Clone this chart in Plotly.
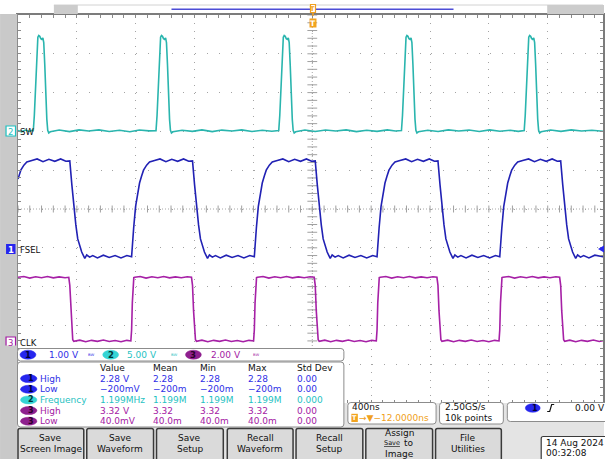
import plotly.graph_objects as go

# ---------------- data (time in ns, level in V) ----------------
SW = [  # channel 2
    (-2000, 0.05), (-1975, -0.1), (-1950, 0.12), (-1925, -0.05), (-1905, 0.08),
    (-1896, 0.05), (-1889, 2.0), (-1879, 6.5), (-1872, 10.5), (-1865, 12.1), (-1859, 12.3), (-1852, 12.2),
    (-1845, 11.9), (-1838, 11.8), (-1831, 12.0), (-1825, 11.4), (-1818, 8.5), (-1811, 4.5), (-1804, 1.5),
    (-1798, 0.1), (-1791, -0.25), (-1781, -0.1),
    (-1720, 0.12), (-1650, -0.08), (-1585, 0.15), (-1520, 0.0), (-1450, 0.14), (-1380, -0.06), (-1310, 0.1),
    (-1240, -0.1), (-1175, 0.13), (-1110, 0.02),
    (-1062, 0.05), (-1055, 2.0), (-1045, 6.5), (-1038, 10.5), (-1031, 12.1), (-1025, 12.3), (-1018, 12.2),
    (-1011, 11.9), (-1004, 11.8), (-997, 12.0), (-991, 11.4), (-984, 8.5), (-977, 4.5), (-970, 1.5),
    (-964, 0.1), (-957, -0.25), (-947, -0.1),
    (-885, 0.1), (-815, -0.05), (-750, 0.14), (-680, -0.08), (-615, 0.12), (-545, 0.0), (-480, 0.15),
    (-410, -0.07), (-340, 0.1), (-275, -0.04),
    (-228, 0.05), (-221, 2.0), (-211, 6.5), (-204, 10.5), (-197, 12.1), (-191, 12.3), (-184, 12.2),
    (-177, 11.9), (-170, 11.8), (-163, 12.0), (-157, 11.4), (-150, 8.5), (-143, 4.5), (-136, 1.5),
    (-130, 0.1), (-123, -0.25), (-113, -0.1),
    (-50, 0.12), (20, -0.06), (90, 0.13), (160, 0.0), (230, 0.15), (300, -0.08), (370, 0.1), (440, -0.05),
    (510, 0.14), (565, 0.0),
    (606, 0.05), (613, 2.0), (623, 6.5), (630, 10.5), (637, 12.1), (643, 12.3), (650, 12.2), (657, 11.9),
    (664, 11.8), (671, 12.0), (677, 11.4), (684, 8.5), (691, 4.5), (698, 1.5), (704, 0.1), (711, -0.25),
    (721, -0.1),
    (785, 0.1), (855, -0.07), (925, 0.14), (995, 0.0), (1065, 0.12), (1135, -0.06), (1205, 0.15),
    (1275, -0.03), (1345, 0.1), (1400, -0.05),
    (1440, 0.05), (1447, 2.0), (1457, 6.5), (1464, 10.5), (1471, 12.1), (1477, 12.3), (1484, 12.2),
    (1491, 11.9), (1498, 11.8), (1505, 12.0), (1511, 11.4), (1518, 8.5), (1525, 4.5), (1532, 1.5),
    (1538, 0.1), (1545, -0.25), (1555, -0.1),
    (1620, 0.12), (1690, -0.05), (1760, 0.14), (1830, 0.0), (1900, 0.1), (1976, -0.04),
]

FSEL = [  # channel 1
    (-2000, 1.80), (-1994, 1.88), (-1981, 2.03), (-1960, 2.16), (-1940, 2.24), (-1906, 2.28),
    (-1870, 2.32), (-1830, 2.25), (-1790, 2.31), (-1750, 2.26), (-1710, 2.32), (-1675, 2.26),
    (-1648, 2.27), (-1634, 1.65), (-1621, 1.13), (-1607, 0.62), (-1594, 0.26), (-1580, 0.05), (-1567, -0.08),
    (-1546, -0.245), (-1533, -0.155), (-1513, -0.21), (-1492, -0.17),
    (-1460, -0.23), (-1420, -0.16), (-1380, -0.22), (-1340, -0.17), (-1300, -0.23), (-1260, -0.17),
    (-1228, -0.2), (-1221, 0.23), (-1214, 0.54), (-1201, 1.09), (-1187, 1.44), (-1174, 1.7), (-1160, 1.88),
    (-1147, 2.03), (-1126, 2.16), (-1106, 2.24), (-1072, 2.28),
    (-1035, 2.32), (-995, 2.25), (-955, 2.31), (-915, 2.26), (-875, 2.32), (-840, 2.26),
    (-814, 2.27), (-800, 1.65), (-787, 1.13), (-773, 0.62), (-760, 0.26), (-746, 0.05), (-733, -0.08),
    (-712, -0.245), (-699, -0.155), (-679, -0.21), (-658, -0.17),
    (-625, -0.23), (-585, -0.16), (-545, -0.22), (-505, -0.17), (-465, -0.23), (-425, -0.17),
    (-394, -0.2), (-387, 0.23), (-380, 0.54), (-367, 1.09), (-353, 1.44), (-340, 1.7), (-326, 1.88),
    (-313, 2.03), (-292, 2.16), (-272, 2.24), (-238, 2.28),
    (-200, 2.32), (-160, 2.25), (-120, 2.31), (-80, 2.26), (-40, 2.32), (-5, 2.26),
    (20, 2.27), (34, 1.65), (47, 1.13), (61, 0.62), (74, 0.26), (88, 0.05), (101, -0.08), (122, -0.245),
    (135, -0.155), (155, -0.21), (176, -0.17),
    (210, -0.23), (250, -0.16), (290, -0.22), (330, -0.17), (370, -0.23), (410, -0.17),
    (440, -0.2), (447, 0.23), (454, 0.54), (467, 1.09), (481, 1.44), (494, 1.7), (508, 1.88), (521, 2.03),
    (542, 2.16), (562, 2.24), (596, 2.28),
    (635, 2.32), (675, 2.25), (715, 2.31), (755, 2.26), (795, 2.32), (830, 2.26),
    (854, 2.27), (868, 1.65), (881, 1.13), (895, 0.62), (908, 0.26), (922, 0.05), (935, -0.08),
    (956, -0.245), (969, -0.155), (989, -0.21), (1010, -0.17),
    (1045, -0.23), (1085, -0.16), (1125, -0.22), (1165, -0.17), (1205, -0.23), (1245, -0.17),
    (1274, -0.2), (1281, 0.23), (1288, 0.54), (1301, 1.09), (1315, 1.44), (1328, 1.7), (1342, 1.88),
    (1355, 2.03), (1376, 2.16), (1396, 2.24), (1430, 2.28),
    (1470, 2.32), (1510, 2.25), (1550, 2.31), (1590, 2.26), (1630, 2.32), (1665, 2.26),
    (1688, 2.27), (1702, 1.65), (1715, 1.13), (1729, 0.62), (1742, 0.26), (1756, 0.05), (1769, -0.08),
    (1790, -0.245), (1803, -0.155), (1823, -0.21), (1844, -0.17),
    (1880, -0.23), (1920, -0.16), (1976, -0.2),
]

CLK = [  # channel 3
    (-2000, 3.32), (-1960, 3.36), (-1920, 3.28), (-1880, 3.35), (-1840, 3.30), (-1800, 3.36), (-1760, 3.29),
    (-1720, 3.34), (-1680, 3.30),
    (-1655, 3.32), (-1648, 2.9), (-1641, 1.6), (-1635, 0.5), (-1628, 0.1), (-1621, 0.02),
    (-1580, 0.08), (-1540, 0.0), (-1500, 0.07), (-1460, 0.02), (-1420, 0.09), (-1380, 0.01), (-1340, 0.06),
    (-1300, 0.0), (-1260, 0.07),
    (-1233, 0.04), (-1228, 0.6), (-1223, 2.0), (-1218, 3.0), (-1213, 3.3), (-1206, 3.32),
    (-1170, 3.36), (-1130, 3.28), (-1090, 3.35), (-1050, 3.30), (-1010, 3.36), (-970, 3.29), (-930, 3.34),
    (-890, 3.30), (-850, 3.35),
    (-821, 3.32), (-814, 2.9), (-807, 1.6), (-801, 0.5), (-794, 0.1), (-787, 0.02),
    (-750, 0.08), (-710, 0.0), (-670, 0.07), (-630, 0.02), (-590, 0.09), (-550, 0.01), (-510, 0.06),
    (-470, 0.0), (-430, 0.07),
    (-399, 0.04), (-394, 0.6), (-389, 2.0), (-384, 3.0), (-379, 3.3), (-372, 3.32),
    (-335, 3.36), (-295, 3.28), (-255, 3.35), (-215, 3.30), (-175, 3.36), (-135, 3.29), (-95, 3.34),
    (-55, 3.30), (-15, 3.35),
    (13, 3.32), (20, 2.9), (27, 1.6), (33, 0.5), (40, 0.1), (47, 0.02),
    (85, 0.08), (125, 0.0), (165, 0.07), (205, 0.02), (245, 0.09), (285, 0.01), (325, 0.06), (365, 0.0),
    (405, 0.07),
    (435, 0.04), (440, 0.6), (445, 2.0), (450, 3.0), (455, 3.3), (462, 3.32),
    (500, 3.36), (540, 3.28), (580, 3.35), (620, 3.30), (660, 3.36), (700, 3.29), (740, 3.34), (780, 3.30),
    (820, 3.35),
    (847, 3.32), (854, 2.9), (861, 1.6), (867, 0.5), (874, 0.1), (881, 0.02),
    (920, 0.08), (960, 0.0), (1000, 0.07), (1040, 0.02), (1080, 0.09), (1120, 0.01), (1160, 0.06),
    (1200, 0.0), (1240, 0.07),
    (1269, 0.04), (1274, 0.6), (1279, 2.0), (1284, 3.0), (1289, 3.3), (1296, 3.32),
    (1335, 3.36), (1375, 3.28), (1415, 3.35), (1455, 3.30), (1495, 3.36), (1535, 3.29), (1575, 3.34),
    (1615, 3.30), (1655, 3.35),
    (1681, 3.32), (1688, 2.9), (1695, 1.6), (1701, 0.5), (1708, 0.1), (1715, 0.02),
    (1750, 0.08), (1790, 0.0), (1830, 0.07), (1870, 0.02), (1910, 0.09), (1950, 0.01), (1976, 0.05),
]

CH_NAMES = {"1": "FSEL", "2": "SW", "3": "CLK"}
CH_VDIV = {"1": 1.0, "2": 5.0, "3": 2.0}
CH_SCALE_TXT = {"1": "1.00 V", "2": "5.00 V", "3": "2.00 V"}

MEAS_HEADERS = ["Value", "Mean", "Min", "Max", "Std Dev"]
MEAS_ROWS = [
    ("1", "High", ["2.28 V", "2.28", "2.28", "2.28", "0.00"]),
    ("1", "Low", ["\u2212200mV", "\u2212200m", "\u2212200m", "\u2212200m", "0.00"]),
    ("2", "Frequency", ["1.199MHz", "1.199M", "1.199M", "1.199M", "0.000"]),
    ("3", "High", ["3.32 V", "3.32", "3.32", "3.32", "0.00"]),
    ("3", "Low", ["40.0mV", "40.0m", "40.0m", "40.0m", "0.00"]),
]

TIME_DIV = "400ns"
TRIG_DELAY = "\u2192\u25bc\u221212.0000ns"
SAMPLE_RATE = "2.50GS/s"
REC_LEN = "10k points"
TRIG_LEVEL = "0.00 V"
DATE_TXT = ["14 Aug 2024", "00:32:08"]
BUTTONS = [["Save", "Screen Image"], ["Save", "Waveform"], ["Save", "Setup"], ["Recall", "Waveform"],
           ["Recall", "Setup"], ["Assign", "Save to", "Image"], ["File", "Utilities"]]

# ---------------- styling / geometry ----------------
W, H = 605, 459
ML, MT, PW, PH = 18, 15, 587, 388
FONT = "DejaVu Sans"
FS = 9
TRACE_COL = {"1": "#2121b4", "2": "#2ab5ae", "3": "#a620a6"}
TXT_COL = {"1": "#2f2fe6", "2": "#1fc2c2", "3": "#a41aa4"}
BADGE_COL = {"1": "#2626ee", "2": "#35d4d4", "3": "#8e1f8e"}
BADGE_TXT = {"1": "#00003a", "2": "#003333", "3": "#2a002a"}
GND_DIV = {"1": 3.97, "2": 7.01, "3": 1.58}   # ground marker position, divisions above bottom
DIV_X = 59.06
X0 = -2000
X1 = X0 + PW * 400 / DIV_X


def px(x):
    return (x - ML) / PW


def py(y):
    return (MT + PH - y) / PH


shapes, anns = [], []


def rect(x0, y0, x1, y1, fill, line="rgba(0,0,0,0)", lw=1):
    shapes.append(dict(type="rect", xref="paper", yref="paper", x0=px(x0), x1=px(x1), y0=py(y0), y1=py(y1),
                       fillcolor=fill, line=dict(color=line, width=lw), layer="above"))


def rrect(x0, y0, x1, y1, fill, line, lw=1, r=3):
    p = (f"M{px(x0 + r)},{py(y0)} L{px(x1 - r)},{py(y0)} Q{px(x1)},{py(y0)} {px(x1)},{py(y0 + r)} "
         f"L{px(x1)},{py(y1 - r)} Q{px(x1)},{py(y1)} {px(x1 - r)},{py(y1)} L{px(x0 + r)},{py(y1)} "
         f"Q{px(x0)},{py(y1)} {px(x0)},{py(y1 - r)} L{px(x0)},{py(y0 + r)} Q{px(x0)},{py(y0)} {px(x0 + r)},{py(y0)} Z")
    shapes.append(dict(type="path", xref="paper", yref="paper", path=p, fillcolor=fill,
                       line=dict(color=line, width=lw), layer="above"))


def ellipse(x0, y0, x1, y1, fill):
    shapes.append(dict(type="circle", xref="paper", yref="paper", x0=px(x0), x1=px(x1), y0=py(y0), y1=py(y1),
                       fillcolor=fill, line=dict(color=fill, width=0.5), layer="above"))


def hline(x0, x1, y, color, lw=1, dash="solid"):
    shapes.append(dict(type="line", xref="paper", yref="paper", x0=px(x0), x1=px(x1), y0=py(y), y1=py(y),
                       line=dict(color=color, width=lw, dash=dash), layer="above"))


def txt(x, y, s, color="#000000", size=FS, anchor="left", **kw):
    anns.append(dict(x=px(x), y=py(y), xref="paper", yref="paper", text=s, showarrow=False, xanchor=anchor,
                     yanchor="middle", font=dict(family=FONT, size=size, color=color), **kw))


fig = go.Figure()

# graticule tick marks on the centre cross
tx = [X0 + 80 * i for i in range(int((X1 - X0) / 80) + 1)]
fig.add_trace(go.Scatter(x=tx, y=[5] * len(tx), mode="markers", hoverinfo="skip",
                         marker=dict(symbol="line-ns", size=5, line=dict(width=1, color="#a0a0a0"))))
ty = [0.2 * i for i in range(51)]
fig.add_trace(go.Scatter(x=[0] * len(ty), y=ty, mode="markers", hoverinfo="skip",
                         marker=dict(symbol="line-ew", size=7, line=dict(width=1, color="#a0a0a0"))))

# waveforms, each on its own volts axis
for ch, data, ax in (("2", SW, "y2"), ("1", FSEL, "y3"), ("3", CLK, "y4")):
    t, v = zip(*data)
    fig.add_trace(go.Scatter(x=list(t), y=list(v), yaxis=ax, mode="lines", hoverinfo="skip",
                             line=dict(color=TRACE_COL[ch], width=1.6)))


def vaxis(ch):
    g, d = GND_DIV[ch], CH_VDIV[ch]
    return dict(range=[-g * d, (10 - g) * d], overlaying="y", visible=False, fixedrange=True)


fig.update_layout(
    width=W, height=H, margin=dict(l=ML, r=0, t=MT, b=H - MT - PH, pad=0),
    paper_bgcolor="#ffffff", plot_bgcolor="#ffffff", showlegend=False,
    xaxis=dict(range=[X0, X1], tick0=0, dtick=400, showgrid=True, gridcolor="#a4a4a4", gridwidth=1,
               griddash="1px,6.76px", zeroline=False, showticklabels=False, ticks="inside", ticklen=3,
               tickcolor="#8a8a8a", showline=True, linecolor="#7c7c7c", linewidth=1.5, mirror="allticks",
               minor=dict(ticks="inside", ticklen=3, dtick=80, tick0=0, tickcolor="#8a8a8a", showgrid=False)),
    yaxis=dict(range=[0, 10], tick0=0, dtick=1, showgrid=True, gridcolor="#a4a4a4", gridwidth=1,
               griddash="1px,10.81px", zeroline=False, showticklabels=False, ticks="inside", ticklen=3,
               tickcolor="#8a8a8a", showline=True, linecolor="#7c7c7c", linewidth=1.5, mirror="allticks",
               minor=dict(ticks="inside", ticklen=3, dtick=0.2, tick0=0, tickcolor="#8a8a8a", showgrid=False)),
    yaxis2=vaxis("2"), yaxis3=vaxis("1"), yaxis4=vaxis("3"),
)

# centre cross lines
shapes.append(dict(type="line", xref="x", yref="paper", x0=0, x1=0, y0=0, y1=1,
                   line=dict(color="#a8a8a8", width=1, dash="1px,2px"), layer="below"))
shapes.append(dict(type="line", xref="paper", yref="y", x0=0, x1=1, y0=5, y1=5,
                   line=dict(color="#a8a8a8", width=1, dash="1px,2px"), layer="below"))

# ---- frame: left strip, top record bar ----
rect(0, 14, 17.2, 462, "#c9c9c9")
hline(54, 605, 5, "#d2d2d2", 1)
rect(54, 5, 78, 14, "#cccccc")
rect(549, 5, 606, 14, "#cccccc")
hline(172, 455, 9.3, "#4c4cd6", 1.5)
# trigger markers
rect(311.5, 4.5, 316.5, 12.5, "#ffffff", "#f0a020", 1.2)
shapes.append(dict(type="line", xref="paper", yref="paper", x0=px(314), x1=px(314), y0=py(12.5), y1=py(16),
                   line=dict(color="#f0a020", width=1.5), layer="above"))
rect(310.5, 18.5, 317.5, 27.5, "#f2a31e")
txt(314, 23.2, "<b>T</b>", "#ffffff", 7.5, "center")
txt(314, 8.8, "<b>T</b>", "#f0a020", 6.5, "center")

# ---- channel ground markers ----
for ch, y in (("2", 131), ("1", 249), ("3", 342)):
    if ch == "1":
        rect(6, y - 5, 15.5, y + 5, BADGE_COL[ch])
        txt(10.8, y + 0.5, "<b>1</b>", "#ffffff", 8.5, "center")
    else:
        rect(6, y - 5, 15.5, y + 5, "#ffffff", TXT_COL[ch], 1.2)
        txt(10.8, y + 0.5, ch, TXT_COL[ch], 8.5, "center")
    txt(18.5, y + 0.5, CH_NAMES[ch], "#111111", 8.5)
# trigger level marker on right edge
shapes.append(dict(type="path", xref="paper", yref="paper",
                   path=f"M{px(606)},{py(245.5)} L{px(600)},{py(249)} L{px(606)},{py(252.5)} Z",
                   fillcolor="#2626ee", line=dict(width=0), layer="above"))

# ---- bottom panel ----
rect(0, 403, 606, 462, "#e4e4e4")
rect(0, 345.5, 17.2, 462, "#c9c9c9")
rrect(17.5, 348.5, 345, 361, "#ffffff", "#8c8c8c", 1)
rrect(17.5, 362, 345, 427, "#ffffff", "#8c8c8c", 1)

# channel scale readout
for ch, bx, tx0, sx in (("1", 20, 47, 92), ("2", 103, 125, 175), ("3", 186, 210, 257)):
    ellipse(bx, 350.2, bx + 16, 359.2, BADGE_COL[ch])
    txt(bx + 8, 355, f"<b>{ch}</b>", BADGE_TXT[ch], 8.5, "center")
    txt(tx0, 355, CH_SCALE_TXT[ch], TXT_COL[ch], FS)
    txt(sx, 355, "\u1d2e\u1d42", TXT_COL[ch], 6, "center")

# measurement table
COLS = [99, 152, 200, 248, 297]
for h, cx in zip(MEAS_HEADERS, COLS):
    txt(cx - 1, 367.8, h, "#111111", FS)
for i, (ch, lab, vals) in enumerate(MEAS_ROWS):
    yy = 378.6 + 10.65 * i
    ellipse(20.5, yy - 4, 37, yy + 4, BADGE_COL[ch])
    txt(31, yy, f"<b>{ch}</b>", BADGE_TXT[ch], 8, "center")
    txt(38, yy, lab, TXT_COL[ch], FS)
    for v, cx in zip(vals, COLS):
        txt(cx - 1, yy, v, TXT_COL[ch], FS)

# horizontal / acquisition / trigger readouts
rrect(349, 402.5, 437.5, 424, "#ffffff", "#8c8c8c", 1)
rrect(441, 402.5, 505, 424, "#ffffff", "#8c8c8c", 1)
rrect(509, 402.5, 612, 421.5, "#ffffff", "#8c8c8c", 1)
txt(351, 407.2, TIME_DIV, "#111111", FS)
rect(352.5, 413.8, 359, 422, "#f2a31e")
txt(355.8, 418, "<b>T</b>", "#ffffff", 6.5, "center")
txt(358.5, 418.2, TRIG_DELAY, "#f0a020", FS)
txt(444, 407.2, SAMPLE_RATE, "#111111", FS)
txt(444, 418.2, REC_LEN, "#111111", FS)
ellipse(527, 403.8, 542, 412.3, BADGE_COL["1"])
txt(536.5, 408, "<b>1</b>", BADGE_TXT["1"], 8, "center")
shapes.append(dict(type="path", xref="paper", yref="paper",
                   path=f"M{px(549)},{py(411.5)} L{px(551.5)},{py(411.5)} L{px(553.5)},{py(404.5)} L{px(556)},{py(404.5)}",
                   line=dict(color="#111111", width=1.2), layer="above"))
txt(575, 408.2, TRIG_LEVEL, "#111111", FS)

# soft buttons
BX = [(18, 84), (87, 154), (157, 224), (228, 294), (297, 364), (367, 434), (437, 503)]
for (x0, x1), lines in zip(BX, BUTTONS):
    rrect(x0, 428.5, x1, 463, "#dadada", "#3a3a3a", 1.5, 2)
    cx = (x0 + x1) / 2
    ys = [438.5, 449.3] if len(lines) == 2 else [433.3, 443.3, 453.5]
    for s, yy in zip(lines, ys):
        if s == "Save to":
            txt(cx - 7, yy, "<u>Save</u>", "#111111", 6.5, "center")
            txt(cx + 3, yy, "to", "#111111", FS, "left")
        else:
            txt(cx, yy, s, "#111111", FS, "center")

# date box
rrect(543, 436.5, 612, 463, "#ffffff", "#3a3a3a", 1.2, 2)
txt(546, 442.8, DATE_TXT[0], "#111111", FS)
txt(546, 452.6, DATE_TXT[1], "#111111", FS)

fig.update_layout(shapes=shapes, annotations=anns)
fig.write_html("out.html")
